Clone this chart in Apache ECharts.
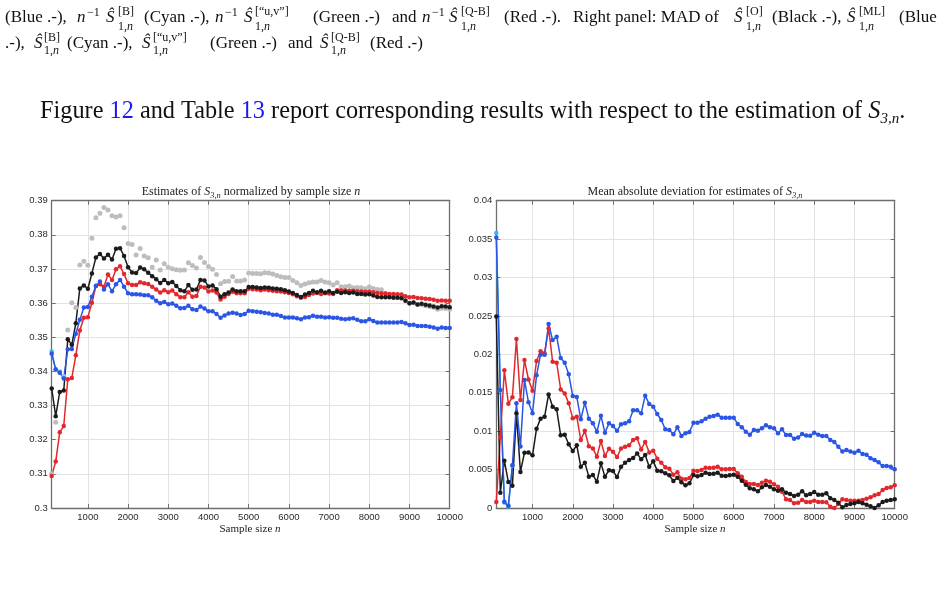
<!DOCTYPE html>
<html>
<head>
<meta charset="utf-8">
<script src="https://cdn.jsdelivr.net/npm/echarts@6/dist/echarts.min.js"></script>
<style>
  html, body { margin: 0; padding: 0; background: #fff; }
  #chart { width: 947px; height: 611px; }
</style>
</head>
<body>
<div id="chart"></div>
<script>
// sample sizes n (x axis of both panels)
const sampleSizes = [
  100, 200, 300, 400, 500, 600, 700, 800, 900, 1000,
  1100, 1200, 1300, 1400, 1500, 1600, 1700, 1800, 1900, 2000,
  2100, 2200, 2300, 2400, 2500, 2600, 2700, 2800, 2900, 3000,
  3100, 3200, 3300, 3400, 3500, 3600, 3700, 3800, 3900, 4000,
  4100, 4200, 4300, 4400, 4500, 4600, 4700, 4800, 4900, 5000,
  5100, 5200, 5300, 5400, 5500, 5600, 5700, 5800, 5900, 6000,
  6100, 6200, 6300, 6400, 6500, 6600, 6700, 6800, 6900, 7000,
  7100, 7200, 7300, 7400, 7500, 7600, 7700, 7800, 7900, 8000,
  8100, 8200, 8300, 8400, 8500, 8600, 8700, 8800, 8900, 9000,
  9100, 9200, 9300, 9400, 9500, 9600, 9700, 9800, 9900, 10000
];
const xTickLabels = [1000, 2000, 3000, 4000, 5000, 6000, 7000, 8000, 9000, 10000];

// left panel: estimates of S3,n / n
const leftBlack = [
  0.3350, 0.3269, 0.3340, 0.3344, 0.3494, 0.3478, 0.3541, 0.3643, 0.3652, 0.3642,
  0.3687, 0.3734, 0.3744, 0.3731, 0.3742, 0.3728, 0.3759, 0.3761, 0.3738, 0.3705,
  0.3690, 0.3688, 0.3704, 0.3699, 0.3689, 0.3679, 0.3670, 0.3659, 0.3668, 0.3658,
  0.3662, 0.3650, 0.3638, 0.3635, 0.3653, 0.3639, 0.3640, 0.3668, 0.3666, 0.3649,
  0.3652, 0.3641, 0.3619, 0.3626, 0.3631, 0.3640, 0.3635, 0.3635, 0.3635, 0.3647,
  0.3647, 0.3646, 0.3644, 0.3646, 0.3645, 0.3643, 0.3642, 0.3641, 0.3638, 0.3634,
  0.3630, 0.3624, 0.3618, 0.3625, 0.3630, 0.3636, 0.3632, 0.3636, 0.3631, 0.3635,
  0.3630, 0.3633, 0.3630, 0.3632, 0.3630, 0.3631, 0.3627, 0.3627, 0.3625, 0.3626,
  0.3622, 0.3618, 0.3617, 0.3617, 0.3617, 0.3616, 0.3616, 0.3614, 0.3607, 0.3600,
  0.3602, 0.3596, 0.3598, 0.3595, 0.3593, 0.3590, 0.3587, 0.3591, 0.3590, 0.3588
];
const leftRed = [
  0.3094, 0.3136, 0.3222, 0.3240, 0.3377, 0.3381, 0.3447, 0.3520, 0.3557, 0.3559,
  0.3601, 0.3650, 0.3655, 0.3648, 0.3684, 0.3668, 0.3699, 0.3708, 0.3685, 0.3658,
  0.3653, 0.3653, 0.3661, 0.3658, 0.3656, 0.3648, 0.3640, 0.3631, 0.3638, 0.3632,
  0.3637, 0.3626, 0.3617, 0.3617, 0.3632, 0.3619, 0.3621, 0.3648, 0.3646, 0.3634,
  0.3637, 0.3631, 0.3611, 0.3619, 0.3627, 0.3633, 0.3629, 0.3629, 0.3629, 0.3642,
  0.3641, 0.3640, 0.3638, 0.3640, 0.3638, 0.3636, 0.3635, 0.3634, 0.3632, 0.3630,
  0.3626, 0.3620, 0.3616, 0.3618, 0.3624, 0.3628, 0.3630, 0.3627, 0.3629, 0.3628,
  0.3627, 0.3638, 0.3637, 0.3637, 0.3636, 0.3636, 0.3635, 0.3634, 0.3633, 0.3634,
  0.3632, 0.3630, 0.3629, 0.3628, 0.3627, 0.3627, 0.3626, 0.3625, 0.3620, 0.3617,
  0.3618, 0.3615, 0.3614, 0.3613, 0.3612, 0.3610, 0.3607, 0.3608, 0.3607, 0.3607
];
const leftBlue = [
  0.3452, 0.3406, 0.3396, 0.3379, 0.3465, 0.3466, 0.3510, 0.3551, 0.3587, 0.3589,
  0.3619, 0.3651, 0.3663, 0.3640, 0.3655, 0.3635, 0.3655, 0.3668, 0.3648, 0.3629,
  0.3626, 0.3626, 0.3625, 0.3623, 0.3623, 0.3617, 0.3607, 0.3600, 0.3603, 0.3597,
  0.3599, 0.3592, 0.3585, 0.3586, 0.3592, 0.3582, 0.3580, 0.3590, 0.3584, 0.3576,
  0.3576, 0.3568, 0.3557, 0.3564, 0.3570, 0.3572, 0.3570, 0.3565, 0.3568, 0.3578,
  0.3576, 0.3575, 0.3573, 0.3571, 0.3570, 0.3566, 0.3566, 0.3562, 0.3558, 0.3558,
  0.3558, 0.3556, 0.3553, 0.3558, 0.3559, 0.3563, 0.3560, 0.3560, 0.3558, 0.3559,
  0.3557, 0.3557, 0.3554, 0.3553, 0.3554, 0.3556, 0.3551, 0.3547, 0.3547, 0.3553,
  0.3548, 0.3543, 0.3543, 0.3543, 0.3543, 0.3543, 0.3543, 0.3545, 0.3541, 0.3536,
  0.3537, 0.3533, 0.3533, 0.3533, 0.3531, 0.3529, 0.3525, 0.3529, 0.3527, 0.3527
];
const leftGray = [
  0.3100, 0.3251, 0.3399, 0.3385, 0.3521, 0.3601, 0.3587, 0.3712, 0.3723, 0.3711,
  0.3790, 0.3850, 0.3863, 0.3880, 0.3873, 0.3856, 0.3852, 0.3856, 0.3821, 0.3775,
  0.3772, 0.3741, 0.3760, 0.3738, 0.3733, 0.3705, 0.3726, 0.3697, 0.3715, 0.3705,
  0.3701, 0.3698, 0.3696, 0.3697, 0.3718, 0.3710, 0.3703, 0.3734, 0.3719, 0.3707,
  0.3699, 0.3684, 0.3657, 0.3663, 0.3664, 0.3678, 0.3665, 0.3665, 0.3668, 0.3688,
  0.3687, 0.3687, 0.3686, 0.3689, 0.3688, 0.3685, 0.3681, 0.3677, 0.3675, 0.3675,
  0.3666, 0.3660, 0.3652, 0.3656, 0.3660, 0.3662, 0.3662, 0.3666, 0.3662, 0.3660,
  0.3653, 0.3660, 0.3648, 0.3648, 0.3650, 0.3645, 0.3646, 0.3645, 0.3642, 0.3648,
  0.3643, 0.3640, 0.3639, 0.3628, 0.3625, 0.3622, 0.3620, 0.3617, 0.3608, 0.3600,
  0.3601, 0.3596, 0.3596, 0.3592, 0.3590, 0.3588, 0.3582, 0.3585, 0.3584, 0.3582
];
// cyan is hidden under blue except for the first points
const leftCyan = [0.3458, 0.3404, 0.3398, 0.3381];

// right panel: mean absolute deviation
const rightBlack = [
  0.02494, 0.00200, 0.00616, 0.00338, 0.00291, 0.01232, 0.00469, 0.00720, 0.00724, 0.00685,
  0.01032, 0.01163, 0.01189, 0.01479, 0.01319, 0.01284, 0.00946, 0.00954, 0.00829, 0.00742,
  0.00816, 0.00538, 0.00590, 0.00408, 0.00429, 0.00343, 0.00581, 0.00408, 0.00490, 0.00482,
  0.00403, 0.00538, 0.00590, 0.00625, 0.00651, 0.00711, 0.00633, 0.00690, 0.00538, 0.00607,
  0.00486, 0.00477, 0.00451, 0.00425, 0.00351, 0.00395, 0.00334, 0.00295, 0.00321, 0.00429,
  0.00412, 0.00429, 0.00460, 0.00442, 0.00447, 0.00460, 0.00421, 0.00416, 0.00425, 0.00434,
  0.00408, 0.00356, 0.00304, 0.00256, 0.00243, 0.00217, 0.00269, 0.00299, 0.00278, 0.00243,
  0.00226, 0.00243, 0.00200, 0.00182, 0.00156, 0.00174, 0.00217, 0.00165, 0.00182, 0.00208,
  0.00174, 0.00174, 0.00191, 0.00126, 0.00104, 0.00069, 0.00009, 0.00039, 0.00052, 0.00061,
  0.00078, 0.00061, 0.00043, 0.00022, 0.00000, 0.00035, 0.00078, 0.00095, 0.00104, 0.00113
];
const rightRed = [
  0.00078, 0.00920, 0.01792, 0.01358, 0.01440, 0.02200, 0.01406, 0.01926, 0.01674, 0.01527,
  0.01913, 0.02039, 0.02013, 0.02338, 0.01904, 0.01891, 0.01544, 0.01492, 0.01362, 0.01167,
  0.01189, 0.00885, 0.01006, 0.00803, 0.00776, 0.00668, 0.00872, 0.00677, 0.00772, 0.00733,
  0.00664, 0.00776, 0.00798, 0.00816, 0.00885, 0.00907, 0.00763, 0.00859, 0.00724, 0.00746,
  0.00642, 0.00590, 0.00529, 0.00512, 0.00434, 0.00464, 0.00382, 0.00373, 0.00390, 0.00486,
  0.00482, 0.00495, 0.00525, 0.00521, 0.00525, 0.00538, 0.00503, 0.00503, 0.00508, 0.00508,
  0.00451, 0.00408, 0.00338, 0.00312, 0.00312, 0.00299, 0.00330, 0.00356, 0.00343, 0.00308,
  0.00278, 0.00213, 0.00113, 0.00104, 0.00061, 0.00069, 0.00104, 0.00078, 0.00078, 0.00095,
  0.00078, 0.00078, 0.00074, 0.00017, 0.00000, 0.00052, 0.00113, 0.00104, 0.00095, 0.00095,
  0.00095, 0.00104, 0.00121, 0.00139, 0.00165, 0.00182, 0.00234, 0.00260, 0.00269, 0.00295
];
const rightBlue = [
  0.03522, 0.01536, 0.00082, 0.00030, 0.00556, 0.01363, 0.00799, 0.01667, 0.01376, 0.01233,
  0.01727, 0.01996, 0.01996, 0.02395, 0.02186, 0.02230, 0.01952, 0.01891, 0.01740, 0.01458,
  0.01445, 0.01154, 0.01371, 0.01163, 0.01102, 0.00993, 0.01202, 0.00980, 0.01102, 0.01067,
  0.01006, 0.01089, 0.01102, 0.01128, 0.01271, 0.01271, 0.01232, 0.01462, 0.01354, 0.01319,
  0.01223, 0.01145, 0.01024, 0.01015, 0.00959, 0.01050, 0.00937, 0.00972, 0.00989, 0.01110,
  0.01110, 0.01128, 0.01163, 0.01189, 0.01197, 0.01215, 0.01176, 0.01176, 0.01176, 0.01176,
  0.01093, 0.01050, 0.00993, 0.00954, 0.01015, 0.01006, 0.01037, 0.01076, 0.01050, 0.01037,
  0.00972, 0.01024, 0.00950, 0.00950, 0.00902, 0.00919, 0.00963, 0.00945, 0.00941, 0.00980,
  0.00954, 0.00937, 0.00937, 0.00885, 0.00859, 0.00798, 0.00737, 0.00755, 0.00737, 0.00720,
  0.00746, 0.00703, 0.00694, 0.00646, 0.00625, 0.00594, 0.00547, 0.00547, 0.00538, 0.00503
];
const rightCyan = [0.0358, 0.0153, 0.0007, 0.0002, 0.0055];

const leftYTicks = { min: 0.30, max: 0.39, step: 0.01 };
const rightYTicks = { min: 0, max: 0.04, step: 0.005 };

const C = {
  black: '#1b1b1b', red: '#e2282d', blue: '#2a55e5', cyan: '#2fb7ee', gray: '#bdbdbd',
  axis: '#6e6e6e', grid: '#e3e3e3', label: '#2a2a2a'
};
const SERIF = '"Liberation Serif", "Times New Roman", serif';
const SANS = '"Liberation Sans", Arial, sans-serif';

const chart = echarts.init(document.getElementById('chart'), null, { renderer: 'canvas' });

const grids = [
  { left: 51.7, top: 200.7, width: 398, height: 307.3 },
  { left: 496.3, top: 200.7, width: 398.4, height: 307.3 }
];

function xAxes(gi) {
  const base = {
    gridIndex: gi, type: 'value', min: 100, max: 10000,
    axisLine: { show: true, onZero: false, lineStyle: { color: C.axis, width: 1.3 } },
    axisTick: { show: true, inside: true, length: 4, customValues: xTickLabels, lineStyle: { color: C.axis } }
  };
  return [
    Object.assign({}, base, {
      position: 'bottom',
      axisLabel: {
        show: true, customValues: xTickLabels, margin: 4, color: C.label, fontFamily: SANS, fontSize: 9.5,
        formatter: v => String(v)
      },
      splitLine: { show: true, lineStyle: { color: C.grid, width: 1 } }
    }),
    Object.assign({}, base, {
      position: 'top', axisLabel: { show: false }, splitLine: { show: false }
    })
  ];
}

function yAxes(gi, t, digits) {
  const base = {
    gridIndex: gi, type: 'value', min: t.min, max: t.max, interval: t.step,
    axisLine: { show: true, onZero: false, lineStyle: { color: C.axis, width: 1.3 } },
    axisTick: { show: true, inside: true, length: 4, lineStyle: { color: C.axis } }
  };
  return [
    Object.assign({}, base, {
      position: 'left',
      axisLabel: {
        show: true, margin: 4, color: C.label, fontFamily: SANS, fontSize: 9.5,
        formatter: v => String(+v.toFixed(digits))
      },
      splitLine: { show: true, lineStyle: { color: C.grid, width: 1 } }
    }),
    Object.assign({}, base, {
      position: 'right', axisLabel: { show: false }, splitLine: { show: false }
    })
  ];
}

function series(name, vals, color, axis, opts) {
  return Object.assign({
    name: name, type: 'line',
    xAxisIndex: axis, yAxisIndex: axis,
    data: vals.map((v, i) => [sampleSizes[i], v]),
    symbol: 'circle', symbolSize: 4.5,
    lineStyle: { color: color, width: 1.5 },
    itemStyle: { color: color },
    emphasis: { disabled: true },
    animation: false
  }, opts || {});
}

// text bits of the page (caption, body line, panel titles)
function txt(x, y, text, size, extra) {
  return {
    type: 'text', x: x, y: y, silent: true,
    style: Object.assign({
      text: text, fill: '#111', fontFamily: SERIF, fontSize: size, verticalAlign: 'middle',
      rich: {
        i: { fontStyle: 'italic', fontFamily: SERIF, fontSize: size, fill: '#111' }
      }
    }, extra || {})
  };
}
const MAIN = 17, SMALL = 12;
function hatS(x, y, sup, supX, supY, subY) {
  return [
    txt(x + 2, y, 'Ŝ', MAIN, { fontStyle: 'italic' }),
    txt(supX - 1, supY, sup, SMALL),
    txt(supX - 1, subY, '1,{i|n}', SMALL, { rich: { i: { fontStyle: 'italic', fontFamily: SERIF, fontSize: SMALL, fill: '#111' } } })
  ];
}
function nInv(x, y, supY) {
  return [txt(x, y, 'n', MAIN, { fontStyle: 'italic' }), txt(x + 10, supY, '−1', SMALL)];
}

const L1 = 17.5, L1sup = 11.5, L1sub = 26.5, L2 = 44, L2sup = 37.5, L2sub = 51;
const textBits = [].concat(
  txt(5, L1, '(Blue .-),', MAIN),
  nInv(77, L1, 12.5), hatS(104, L1, '[B]', 119, L1sup, L1sub),
  txt(144, L1, '(Cyan .-),', MAIN),
  nInv(215, L1, 12.5), hatS(242, L1, '[“u,v”]', 256, L1sup, L1sub),
  txt(313, L1, '(Green .-)', MAIN),
  txt(392, L1, 'and', MAIN),
  nInv(422, L1, 12.5), hatS(447, L1, '[Q-B]', 462, L1sup, L1sub),
  txt(504, L1, '(Red .-).', MAIN),
  txt(573, L1, 'Right panel: MAD of', MAIN),
  hatS(732, L1, '[O]', 747, L1sup, L1sub),
  txt(772, L1, '(Black .-),', MAIN),
  hatS(845, L1, '[ML]', 860, L1sup, L1sub),
  txt(899, L1, '(Blue', MAIN),
  txt(5, L2, '.-),', MAIN),
  hatS(32, L2, '[B]', 45, L2sup, L2sub),
  txt(67, L2, '(Cyan .-),', MAIN),
  hatS(140, L2, '[“u,v”]', 154, L2sup, L2sub),
  txt(210, L2, '(Green .-)', MAIN),
  txt(288, L2, 'and', MAIN),
  hatS(318, L2, '[Q-B]', 332, L2sup, L2sub),
  txt(370, L2, '(Red .-)', MAIN)
);

const BODY = 24.3;
const bodyLine = {
  type: 'text', x: 40, y: 112, silent: true,
  style: {
    text: '{r|Figure }{b|12}{r| and Table }{b|13}{r| report corresponding results with respect to the estimation of }{i|S}{s|3,n}{r|.}',
    verticalAlign: 'middle',
    rich: {
      r: { fontFamily: SERIF, fontSize: BODY, fill: '#111', lineHeight: 30, verticalAlign: 'middle' },
      b: { fontFamily: SERIF, fontSize: BODY, fill: '#1a1aee', lineHeight: 30, verticalAlign: 'middle' },
      i: { fontFamily: SERIF, fontSize: BODY, fill: '#111', fontStyle: 'italic', lineHeight: 30, verticalAlign: 'middle' },
      s: { fontFamily: SERIF, fontSize: 15, fill: '#111', fontStyle: 'italic', lineHeight: 30, verticalAlign: 'bottom' }
    }
  }
};

function panelText(cx, cy, text, size) {
  return {
    type: 'text', x: cx, y: cy, silent: true,
    style: {
      text: text, align: 'center', verticalAlign: 'middle',
      rich: {
        r: { fontFamily: SERIF, fontSize: size, fill: '#222', lineHeight: 15, verticalAlign: 'middle' },
        i: { fontFamily: SERIF, fontSize: size, fill: '#222', fontStyle: 'italic', lineHeight: 15, verticalAlign: 'middle' },
        s: { fontFamily: SERIF, fontSize: size * 0.7, fill: '#222', fontStyle: 'italic', lineHeight: 15, verticalAlign: 'bottom' }
      }
    }
  };
}

const option = {
  backgroundColor: '#fff',
  animation: false,
  grid: grids.map(g => Object.assign({ containLabel: false, show: false }, g)),
  xAxis: [].concat(xAxes(0), xAxes(1)),
  yAxis: [].concat(yAxes(0, leftYTicks, 2), yAxes(1, rightYTicks, 3)),
  series: [
    series('u,v', leftGray, C.gray, 0, { lineStyle: { opacity: 0 }, symbolSize: 5 }),
    series('B', leftCyan, C.cyan, 0),
    series('Q-B', leftRed, C.red, 0),
    series('O', leftBlack, C.black, 0),
    series('ML', leftBlue, C.blue, 0),
    series('B', rightCyan, C.cyan, 2),
    series('Q-B', rightRed, C.red, 2),
    series('O', rightBlack, C.black, 2),
    series('ML', rightBlue, C.blue, 2)
  ],
  graphic: textBits.concat([
    bodyLine,
    panelText(251, 192, '{r|Estimates of }{i|S}{s|3,n}{r| normalized by sample size }{i|n}', 12),
    panelText(695, 192, '{r|Mean absolute deviation for estimates of }{i|S}{s|3,n}', 12),
    panelText(250, 529, '{r|Sample size }{i|n}', 11),
    panelText(695, 529, '{r|Sample size }{i|n}', 11)
  ])
};

// series use axis pairs 0 (left) and 2 (right)
chart.setOption(option);
window.addEventListener('resize', () => chart.resize());
</script>
</body>
</html>
